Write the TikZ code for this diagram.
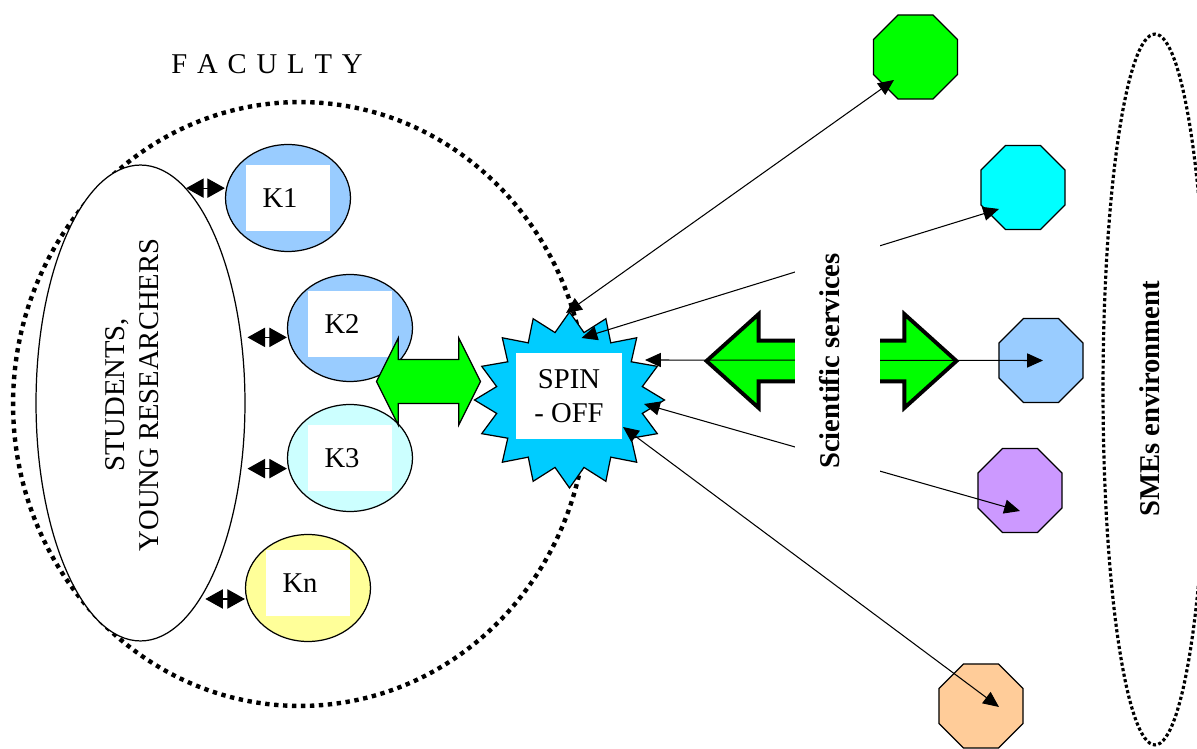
\documentclass[tikz,border=0pt]{standalone}
\usepackage{fontspec}
\setmainfont{Liberation Serif}
\usetikzlibrary{arrows.meta, calc, positioning, shapes.geometric, shapes.arrows}
\definecolor{kblue}{RGB}{153,204,255}
\definecolor{kcyan}{RGB}{204,255,255}
\definecolor{kyellow}{RGB}{255,255,153}
\definecolor{spinblue}{RGB}{0,204,255}
\definecolor{agreen}{RGB}{0,255,0}
\definecolor{ocyan}{RGB}{0,255,255}
\definecolor{opurple}{RGB}{204,153,255}
\definecolor{oorange}{RGB}{255,204,153}

\begin{document}
\begin{tikzpicture}[x=0.02cm, y=-0.02cm, semithick,
  every node/.style={font=\fontsize{16.3}{19}\selectfont},
  bold/.style={font=\fontsize{16.3}{19}\selectfont\bfseries},
  kball/.style={ellipse, draw, line width=0.7pt, minimum width=2.5cm, minimum height=2.14cm, inner sep=0pt},
  kbox/.style={fill=white, minimum width=1.7cm, minimum height=1.32cm, text width=1.02cm, inner xsep=0.34cm, inner ysep=0pt, align=left},
  sme/.style={regular polygon, regular polygon sides=8, draw, line width=0.7pt, minimum size=1.82cm, inner sep=0pt},
  kdarr/.style={{Triangle[length=10pt,width=11pt]}-{Triangle[length=10pt,width=11pt]}, line width=0.6pt},
  link/.style={{Triangle[length=9pt,width=8pt]}-{Triangle[length=9pt,width=8pt]}, line width=0.6pt},
  bigdots/.style={line width=2.5pt, dash pattern=on 2.5pt off 2.6pt},
  smalldots/.style={line width=1.8pt, dash pattern=on 1.8pt off 1.4pt}]
\useasboundingbox (0,0) rectangle (1197,749);

% faculty
\node[ellipse, draw, bigdots, minimum width=11.48cm, minimum height=12.08cm, inner sep=0pt] (fac) at (300,404) {};
\node (factxt) at (267,64) {\spaceskip=5.6pt F A C U L T Y};
\node[ellipse, draw, fill=white, line width=0.7pt, minimum width=4.18cm, minimum height=9.52cm, inner sep=0pt] (stud) at (140.5,403) {};
\node[rotate=90, align=center] (studtxt) at (132,395) {STUDENTS,\\YOUNG RESEARCHERS};

\node[kball, fill=kblue] (k1) at (288,198) {};
\node[kball, fill=kblue] (k2) at (350,328) {};
\node[kball, fill=kcyan] (k3) at (350,458) {};
\node[kball, fill=kyellow] (kn) at (308,588) {};
\node[kbox] (k1txt) at (k1) {K1};
\node[kbox, yshift=2.5pt] (k2txt) at (k2) {K2};
\node[kbox] (k3txt) at (k3) {K3};
\node[kbox, yshift=3pt] (kntxt) at (kn) {Kn};

\draw[kdarr] (stud.78) -- (k1.west |- stud.78);
\draw[kdarr] ([xshift=3.4pt]stud.33) -- (k2.west |- stud.33);
\draw[kdarr] ([xshift=3.4pt]stud.-33) -- (k3.west |- stud.-33);
\draw[kdarr] ([xshift=2.8pt]stud.-73) -- (kn.west |- stud.-73);

% SMEs
\node[sme, fill=agreen] (o1) at (915.5,57) {};
\node[sme, fill=ocyan] (o2) at (1023,187.5) {};
\node[sme, fill=kblue] (o3) at (1041,360.5) {};
\node[sme, fill=opurple] (o4) at (1020,490.5) {};
\node[sme, fill=oorange] (o5) at (981,706) {};

% spin-off
\node[star, star points=16, star point ratio=1.28, draw, fill=spinblue, line width=0.7pt, minimum size=3.52cm, inner sep=0pt, xscale=1.08] (star) at (569.5,400) {};
\node[fill=white, minimum width=2.12cm, minimum height=1.72cm, align=center] (spin) at (569,396) {SPIN\\- OFF};
\node[double arrow, draw, fill=agreen, line width=0.7pt, double arrow tip angle=127, double arrow head extend=0.43cm, minimum width=1.72cm, minimum height=2.08cm, inner xsep=0pt, inner ysep=0.43cm] (kstar) at (428.5,381.5) {};
\node[double arrow, draw, fill=agreen, line width=2.2pt, double arrow tip angle=84, double arrow head extend=0.53cm, minimum width=1.8cm, minimum height=5cm, inner xsep=0pt, inner ysep=0.37cm] (svc) at (831.5,361) {};

\draw[link] ($(star)+(-3.5,-87)$) -- ($(o1)+(-21.5,23)$);
\draw[link] ($(star)+(12,-62)$) -- ($(o2)+(-24,21.5)$);
\draw[link] ($(star)+(75.5,-40)$) -- ($(o3)+(2,0)$);
\draw[link] ($(star)+(74.5,4)$) -- ($(o4)+(0,20.5)$);
\draw[link] ($(star)+(53.5,27)$) -- ($(o5)+(18,1)$);

\node[fill=white, minimum width=1.7cm, minimum height=6.4cm] (svcbox) at (837.5,390) {};
\node[bold, rotate=90] (svctxt) at (830,361) {Scientific services};

\node[ellipse, draw, smalldots, minimum width=2.08cm, minimum height=14.22cm, inner sep=0pt] (smes) at (1155,389.5) {};
\node[bold, rotate=90] (smestxt) at (1150,399) {SMEs environment};
\end{tikzpicture}
\end{document}
